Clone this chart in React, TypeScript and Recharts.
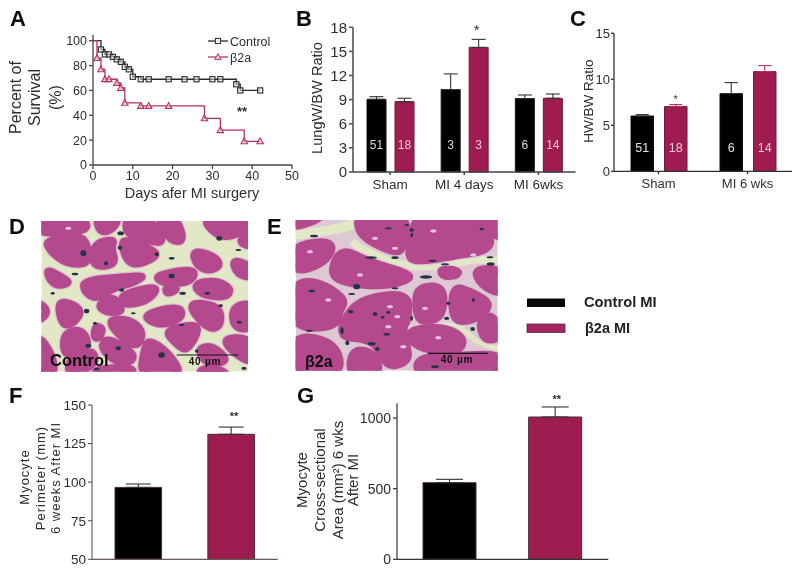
// App.tsx - seven panel figure, survival curve, bar panels and two histology panels
import { BarChart, Bar, XAxis, YAxis, ErrorBar, LabelList, Cell, LineChart, Line, Legend } from 'recharts';

const FONT = '"Liberation Sans", Arial, sans-serif';
const MAROON = '#9f1c50';
const PINK_LINE = '#b62f60';
const INK = '#2e2e2e';

// panel A
const controlDays = [0, 2, 3, 4, 5, 6, 7, 8, 9, 10, 12, 14, 19, 23, 26, 30, 32, 36, 37, 42];
const controlSurvival = [100, 93, 89, 89, 87, 85, 83, 79, 77, 71, 69, 69, 69, 69, 69, 69, 69, 65, 60, 60];
const betaDays = [0, 1, 2, 3, 4, 6, 7, 8, 12, 14, 19, 28, 32, 38, 42];
const betaSurvival = [100, 86, 77, 69, 69, 66, 62, 50, 47.5, 47.5, 47.5, 37.5, 28, 19, 19];
const survivalXTicks = [0, 10, 20, 30, 40, 50];
const survivalYTicks = [0, 20, 40, 60, 80, 100];

// panel B
const lungCategories = ['Sham', 'MI 4 days', 'MI 6wks'];
const lungControl = [9.04, 10.25, 9.13];
const lungControlErr = [0.33, 1.95, 0.45];
const lungControlN = [51, 3, 6];
const lungBeta = [8.75, 15.5, 9.17];
const lungBetaErr = [0.42, 1.0, 0.53];
const lungBetaN = [18, 3, 14];
const lungTicks = [0, 3, 6, 9, 12, 15, 18];

// panel C
const hwCategories = ['Sham', 'MI 6 wks'];
const hwControl = [6.01, 8.44];
const hwControlErr = [0.15, 1.2];
const hwControlN = [51, 6];
const hwBeta = [7.03, 10.83];
const hwBetaErr = [0.22, 0.66];
const hwBetaN = [18, 14];
const hwTicks = [0, 5, 10, 15];

// panels F and G
const groupNames = ['Control MI', 'β2a MI'];
const perimeterValues = [96.6, 131];
const perimeterErr = [2.2, 4.7];
const perimeterTicks = [50, 75, 100, 125, 150];
const areaValues = [542, 1007];
const areaErr = [24, 71];
const areaTicks = [0, 500, 1000];

const toPoints = (xs: number[], ys: number[]) => xs.map((x, i) => ({ x, y: ys[i] }));
const controlPoints = toPoints(controlDays, controlSurvival);
const betaPoints = toPoints(betaDays, betaSurvival);

const lungData = lungCategories.map((name, i) => ({
  name,
  control: lungControl[i],
  controlErr: [0, lungControlErr[i]],
  controlN: lungControlN[i],
  beta: lungBeta[i],
  betaErr: [0, lungBetaErr[i]],
  betaN: lungBetaN[i],
}));
const hwData = hwCategories.map((name, i) => ({
  name,
  control: hwControl[i],
  controlErr: [0, hwControlErr[i]],
  controlN: hwControlN[i],
  beta: hwBeta[i],
  betaErr: [0, hwBetaErr[i]],
  betaN: hwBetaN[i],
}));
const perimeterData = groupNames.map((name, i) => ({ name, value: perimeterValues[i], err: [0, perimeterErr[i]] }));
const areaData = groupNames.map((name, i) => ({ name, value: areaValues[i], err: [0, areaErr[i]] }));

const squareDot = (p: any) => {
  if (p.index === 0) return <g key={p.index} />;
  return <rect key={p.index} x={p.cx - 2.6} y={p.cy - 2.6} width={5.2} height={5.2} fill="#e8e8e8" fillOpacity={0.5} stroke="#2b2b2b" strokeWidth={1.1} />;
};
const triangleDot = (p: any) => {
  if (p.index === 0) return <g key={p.index} />;
  return <path key={p.index} d={`M${p.cx},${p.cy - 3.4}L${p.cx + 3.2},${p.cy + 2.4}L${p.cx - 3.2},${p.cy + 2.4}Z`} fill="#f3d5de" fillOpacity={0.6} stroke={PINK_LINE} strokeWidth={1.1} />;
};

const SurvivalLegend = () => (
  <svg width={90} height={34} style={{ display: 'block' }}>
    <line x1={0} x2={20} y1={8} y2={8} stroke="#2b2b2b" strokeWidth={1.3} />
    <rect x={7.4} y={5.4} width={5.2} height={5.2} fill="#eee" stroke="#2b2b2b" />
    <text x={22} y={12.5} fontSize={12.5} fill={INK} fontFamily={FONT}>Control</text>
    <line x1={0} x2={20} y1={24} y2={24} stroke={PINK_LINE} strokeWidth={1.3} />
    <path d="M10,20.6L13.2,26.4L6.8,26.4Z" fill="#f3d5de" stroke={PINK_LINE} />
    <text x={22} y={28.5} fontSize={12.5} fill={INK} fontFamily={FONT}>β2a</text>
  </svg>
);

function PanelA() {
  return (
    <div style={{ position: 'absolute', left: 43, top: 0 }}>
      <LineChart width={270} height={190} margin={{ top: 35, right: 21, bottom: 0, left: 0 }}>
        <XAxis type="number" dataKey="x" domain={[0, 50]} ticks={survivalXTicks} interval={0} tick={{ fontSize: 12.5, fill: INK, fontFamily: FONT }} tickSize={4} tickMargin={2} stroke="#444" strokeWidth={1.3} height={25} />
        <YAxis type="number" dataKey="y" domain={[0, 104.6]} ticks={survivalYTicks} interval={0} tick={{ fontSize: 12.5, fill: INK, fontFamily: FONT }} tickSize={4} tickMargin={2} stroke="#444" strokeWidth={1.3} width={50} />
        <Legend layout="vertical" align="center" verticalAlign="middle" content={() => <SurvivalLegend />} wrapperStyle={{ position: 'absolute', left: 165, top: 33, width: 90, height: 34 }} />
        <Line data={controlPoints} dataKey="y" name="Control" type="stepAfter" stroke="#2b2b2b" strokeWidth={1.3} dot={squareDot} isAnimationActive={false} />
        <Line data={betaPoints} dataKey="y" name="β2a" type="stepAfter" stroke={PINK_LINE} strokeWidth={1.3} dot={triangleDot} isAnimationActive={false} />
      </LineChart>
    </div>
  );
}

function PanelB() {
  const nStyle = { fontSize: 12, fontFamily: FONT };
  return (
    <div style={{ position: 'absolute', left: 302.5, top: 0 }}>
      <BarChart width={275} height={202} data={lungData} barSize={19} barGap={9} margin={{ top: 27.3, right: 2.5, bottom: 0, left: 0 }}>
        <XAxis dataKey="name" interval={0} tick={{ fontSize: 13.5, fill: INK, fontFamily: FONT }} tickSize={3} tickMargin={4} stroke="#444" strokeWidth={1.5} height={30} />
        <YAxis domain={[0, 18]} ticks={lungTicks} interval={0} tick={{ fontSize: 15, fill: INK, fontFamily: FONT }} tickSize={4} tickMargin={2} stroke="#555" strokeWidth={1.6} width={50} />
        <Bar dataKey="control" fill="#000" stroke="#111" isAnimationActive={false}>
          <ErrorBar dataKey="controlErr" direction="y" width={7} stroke="#333" strokeWidth={1.1} isAnimationActive={false} />
          <LabelList dataKey="controlN" position="insideBottom" offset={23} fill="#d8d8d8" style={nStyle} />
        </Bar>
        <Bar dataKey="beta" fill={MAROON} stroke="#6e1a3c" isAnimationActive={false}>
          <ErrorBar dataKey="betaErr" direction="y" width={7} stroke="#333" strokeWidth={1.1} isAnimationActive={false} />
          <LabelList dataKey="betaN" position="insideBottom" offset={23} fill="#f2c6d6" style={nStyle} />
        </Bar>
      </BarChart>
    </div>
  );
}

function PanelC() {
  const nStyle = { fontSize: 12.5, fontFamily: FONT };
  return (
    <div style={{ position: 'absolute', left: 574, top: 0 }}>
      <BarChart width={222} height={202} data={hwData} barSize={22.5} barGap={11} margin={{ top: 33.3, right: 4, bottom: 0, left: 0 }}>
        <XAxis dataKey="name" interval={0} tick={{ fontSize: 13, fill: INK, fontFamily: FONT }} tickSize={3} tickMargin={4} stroke="#333" strokeWidth={1.3} height={30.7} />
        <YAxis domain={[0, 15]} ticks={hwTicks} interval={0} tick={{ fontSize: 13, fill: INK, fontFamily: FONT }} tickSize={3} tickMargin={1} stroke="#333" strokeWidth={1.3} width={40} />
        <Bar dataKey="control" fill="#000" stroke="#111" isAnimationActive={false}>
          <ErrorBar dataKey="controlErr" direction="y" width={6.5} stroke="#333" strokeWidth={1.1} isAnimationActive={false} />
          <LabelList dataKey="controlN" position="insideBottom" offset={19} fill="#e2e2e2" style={nStyle} />
        </Bar>
        <Bar dataKey="beta" fill={MAROON} stroke="#6e1a3c" isAnimationActive={false}>
          <ErrorBar dataKey="betaErr" direction="y" width={6.5} stroke={PINK_LINE} strokeWidth={1.1} isAnimationActive={false} />
          <LabelList dataKey="betaN" position="insideBottom" offset={19} fill="#f2c6d6" style={nStyle} />
        </Bar>
      </BarChart>
    </div>
  );
}

function PanelF() {
  return (
    <div style={{ position: 'absolute', left: 42, top: 390 }}>
      <BarChart width={237} height={182} data={perimeterData} barSize={46.6} margin={{ top: 15, right: 1.3, bottom: 0, left: 0 }}>
        <XAxis dataKey="name" tick={false} tickLine={false} stroke="#6a5a55" strokeWidth={1.2} height={12.7} />
        <YAxis domain={[50, 150]} ticks={perimeterTicks} interval={0} tick={{ fontSize: 13.5, fill: INK, fontFamily: FONT }} tickSize={4} tickMargin={2} stroke="#555" strokeWidth={1.1} width={50} />
        <Bar dataKey="value" stroke="#4a2a35" isAnimationActive={false}>
          {perimeterData.map((d, i) => <Cell key={d.name} fill={i === 0 ? '#000' : MAROON} />)}
          <ErrorBar dataKey="err" direction="y" width={12.5} stroke="#333" strokeWidth={1.1} isAnimationActive={false} />
        </Bar>
      </BarChart>
    </div>
  );
}

function PanelG() {
  return (
    <div style={{ position: 'absolute', left: 347.3, top: 390 }}>
      <BarChart width={262} height={182} data={areaData} barSize={53} margin={{ top: 13.3, right: 0.7, bottom: 0, left: 0 }}>
        <XAxis dataKey="name" tick={false} tickLine={false} stroke="#333" strokeWidth={1.2} height={12.7} />
        <YAxis domain={[0, 1104]} ticks={areaTicks} interval={0} tick={{ fontSize: 14, fill: INK, fontFamily: FONT }} tickSize={4} tickMargin={2} stroke="#333" strokeWidth={1.2} width={50} />
        <Bar dataKey="value" stroke="#4a2a35" isAnimationActive={false}>
          {areaData.map((d, i) => <Cell key={d.name} fill={i === 0 ? '#000' : MAROON} />)}
          <ErrorBar dataKey="err" direction="y" width={13.5} stroke="#333" strokeWidth={1.1} isAnimationActive={false} />
        </Bar>
      </BarChart>
    </div>
  );
}

// the two micrographs are only sketched as cell outlines, coordinates are in 3x crop pixels
const histDCells = [
  '110,35 250,35 270,80 110,90', '135,105 240,90 265,120 268,178 200,178 150,140', '285,35 360,35 340,75 300,85',
  '280,115 345,100 335,130 350,180 275,188', '370,100 440,125 480,150 420,180 385,175 365,130', '380,35 445,35 500,115 440,110 375,85',
  '465,35 530,35 555,110 510,110', '600,35 760,35 760,60 700,95 650,95', '575,135 640,150 665,180 630,200 590,185',
  '710,110 760,75 760,130', '695,160 760,185 760,220 710,210', '140,190 195,220 210,235 170,245 145,220',
  '250,225 370,215 440,210 400,235 340,250 290,285 250,260', '460,210 580,190 585,215 560,235 490,238', '365,265 480,240 450,285 395,300 365,295',
  '495,245 540,250 500,270', '580,235 650,225 695,250 680,280 600,270', '110,285 150,320 110,355',
  '170,280 250,310 225,355 185,365', '290,300 340,270 375,320 320,325', '555,290 660,300 665,365 620,375',
  '420,330 540,300 550,340 480,365', '695,305 760,290 760,375 700,370', '315,345 385,340 430,375 420,420 385,420',
  '490,375 590,355 595,385 560,440 530,420', '650,400 760,395 760,490', '190,385 240,370 270,410 240,450 190,450',
  '285,360 310,370 300,400 280,400', '320,395 400,440 400,470 350,475 300,430', '445,400 510,445 550,515 420,515 430,440',
  '110,380 160,450 165,515 110,515', '590,430 640,420 690,470 620,480', '205,460 280,430 290,480 205,515',
  '600,490 660,490 690,515 600,515', '285,490 400,485 400,515 285,515',
];
const histDChannels: [string, number][] = [];
const histDNuclei: [number, number, number, number][] = [
  [362, 85, 10, 6], [360, 128, 7, 6], [250, 145, 9, 9], [318, 175, 6, 6], [470, 148, 6, 6], [515, 160, 9, 4], [658, 100, 9, 7],
  [225, 207, 10, 4], [515, 213, 9, 7], [365, 255, 8, 5], [548, 265, 10, 5], [622, 265, 9, 4], [158, 265, 6, 4], [260, 318, 8, 7],
  [285, 355, 6, 5], [400, 325, 7, 3], [662, 302, 7, 4], [718, 352, 8, 4], [265, 422, 9, 6], [355, 430, 8, 6], [485, 450, 10, 8],
  [590, 438, 5, 5], [732, 490, 8, 5], [290, 492, 9, 4], [715, 135, 9, 3], [545, 360, 9, 3],
];
const histDSpecks: [number, number][] = [[205, 70]];
const histECells = [
  '95,30 210,30 95,75', '290,30 440,30 440,100 420,150 345,120 295,85', '465,30 640,30 700,100 680,140 600,150 500,170 440,165 455,100',
  '650,30 730,30 730,120', '95,125 190,105 225,125 190,180 95,205', '240,125 330,170 450,205 450,225 380,245 280,240 205,215',
  '640,190 730,190 730,275 660,240', '540,190 600,195 590,215 545,215', '95,235 170,225 260,280 240,320 225,370 95,370',
  '295,280 450,260 445,350 430,365 440,410 450,470 380,490 350,420 300,400 250,400 240,360', '470,245 555,240 550,340 480,355 465,310',
  '575,240 640,260 700,300 640,350 575,350', '450,370 560,365 615,400 600,440 510,440 445,410', '655,345 700,325 730,400 670,410',
  '95,385 230,410 250,515 95,515', '275,430 345,440 365,515 265,515', '470,455 600,450 730,445 730,515 470,515',
];
const histEChannels: [string, number][] = [
  ['M95,90C160,85 230,75 290,55', 30],
  ['M275,110C320,145 390,175 450,182C510,190 580,180 630,165C660,160 690,165 720,170', 24],
  ['M440,370C500,360 570,355 600,368C630,390 650,420 720,432', 16],
];
const histENuclei: [number, number, number, number][] = [
  [162, 93, 12, 4], [385, 70, 10, 3], [440, 60, 7, 3], [455, 75, 7, 5], [333, 158, 18, 4], [405, 158, 11, 4], [518, 167, 12, 3], [555, 178, 12, 3],
  [690, 157, 10, 3], [692, 177, 12, 5], [498, 216, 18, 5], [290, 245, 10, 8], [405, 250, 10, 3], [275, 267, 10, 3], [155, 258, 10, 4], [345, 327, 7, 6],
  [368, 337, 5, 4], [385, 322, 6, 4], [272, 320, 8, 5], [246, 377, 5, 10], [148, 377, 10, 3], [335, 416, 12, 5], [352, 432, 7, 6], [262, 414, 6, 7],
  [565, 295, 6, 5], [560, 340, 8, 5], [638, 372, 7, 6], [640, 285, 4, 6], [455, 90, 4, 7], [525, 485, 12, 4], [665, 72, 6, 4], [380, 388, 10, 4], [455, 340, 4, 8],
];
const histESpecks: [number, number][] = [
  [520, 78], [405, 130], [300, 210], [205, 285], [390, 305], [412, 335], [385, 365], [495, 310], [535, 398], [150, 140], [345, 100], [430, 425], [640, 150],
];

// closed curve through the edge midpoints, so the sketched cells get round corners
const smooth = (pts: string) => {
  const p = pts.split(' ').map((s) => s.split(',').map(Number));
  const mid = (a: number[], b: number[]) => `${(a[0] + b[0]) / 2},${(a[1] + b[1]) / 2}`;
  let d = `M${mid(p[p.length - 1], p[0])}`;
  p.forEach((v, i) => {
    d += `Q${v[0]},${v[1]} ${mid(v, p[(i + 1) % p.length])}`;
  });
  return d + 'Z';
};

function Histology(props: { id: string; ox: number; oy: number; x: number; y: number; w: number; h: number; gap: string; cells: string[]; channels: [string, number][]; nuclei: [number, number, number, number][]; specks: [number, number][] }) {
  const { id, ox, oy, x, y, w, h, gap, cells, channels, nuclei, specks } = props;
  return (
    <g transform={`translate(${ox},${oy}) scale(${1 / 3})`} style={{ filter: 'blur(0.6px)' }}>
      <defs>
        <clipPath id={id}><rect x={x} y={y} width={w} height={h} /></clipPath>
      </defs>
      <g clipPath={`url(#${id})`} strokeLinejoin="round">
        <rect x={x} y={y} width={w} height={h} fill={gap} />
        {channels.map(([d, sw], i) => <path key={`g${i}`} d={d} fill="none" stroke="#e2e8c6" strokeWidth={sw} />)}
        {cells.map((pts, i) => <path key={`h${i}`} d={smooth(pts)} fill="#d9b4cd" stroke="#dcc0cf" strokeWidth={27} />)}
        {cells.map((pts, i) => <path key={`c${i}`} d={smooth(pts)} fill="#b5498d" stroke="#b5498d" strokeWidth={20} />)}
        {specks.map(([cx, cy], i) => <ellipse key={`s${i}`} cx={cx} cy={cy} rx={9} ry={5} fill="#e5c3da" />)}
        {nuclei.map(([cx, cy, rx, ry], i) => <ellipse key={`n${i}`} cx={cx} cy={cy} rx={rx} ry={ry} fill="#253445" />)}
      </g>
    </g>
  );
}

function Overlay() {
  const t = { fontFamily: FONT, fill: INK };
  const letter = { fontFamily: FONT, fontWeight: 700, fontSize: 22, fill: '#0c0c0c' };
  const rot = (x: number, y: number) => `rotate(-90 ${x} ${y})`;
  return (
    <svg width={800} height={572} style={{ position: 'absolute', left: 0, top: 0, pointerEvents: 'none' }}>
      <Histology id="histD" ox={0} oy={205} x={124} y={48} w={620} h={452} gap="#e2e8c6" cells={histDCells} channels={histDChannels} nuclei={histDNuclei} specks={histDSpecks} />
      <Histology id="histE" ox={260} oy={205} x={107} y={45} w={606} h={452} gap="#ddc8d4" cells={histECells} channels={histEChannels} nuclei={histENuclei} specks={histESpecks} />

      <text x={10} y={26} {...letter}>A</text>
      <text x={296} y={26} {...letter}>B</text>
      <text x={570} y={26} {...letter}>C</text>
      <text x={9} y={234} {...letter}>D</text>
      <text x={267} y={234} {...letter}>E</text>
      <text x={9} y={403} {...letter}>F</text>
      <text x={297} y={403} {...letter}>G</text>

      <text x={20.7} y={97.5} transform={rot(20.7, 97.5)} textAnchor="middle" fontSize={16} {...t}>Percent of</text>
      <text x={40} y={97.5} transform={rot(40, 97.5)} textAnchor="middle" fontSize={16} {...t}>Survival</text>
      <text x={61} y={97.5} transform={rot(61, 97.5)} textAnchor="middle" fontSize={16} {...t}>(%)</text>
      <text x={192} y={198} textAnchor="middle" fontSize={14.5} {...t}>Days afer MI surgery</text>
      <text x={242} y={116} textAnchor="middle" fontSize={13} fontWeight={700} {...t}>**</text>

      <text x={322.3} y={98} transform={rot(322.3, 98)} textAnchor="middle" fontSize={14.6} {...t}>LungW/BW Ratio</text>
      <text x={476.7} y={35} textAnchor="middle" fontSize={15} {...t}>*</text>

      <text x={592.7} y={101} transform={rot(592.7, 101)} textAnchor="middle" fontSize={13.5} {...t}>HW/BW Ratio</text>
      <text x={675.7} y={103} textAnchor="middle" fontSize={11} {...t}>*</text>

      <text x={50} y={366} fontSize={16.5} fontWeight={700} fill="#0c0c0c" fontFamily={FONT}>Control</text>
      <line x1={176.7} x2={238} y1={355} y2={355} stroke="#111" strokeWidth={1.2} />
      <text x={205} y={365} textAnchor="middle" fontSize={10} letterSpacing={0.8} fontWeight={700} fill="#111" fontFamily={FONT}>40 µm</text>
      <text x={305} y={367} fontSize={16} fontWeight={700} fill="#0c0c0c" fontFamily={FONT}>β2a</text>
      <line x1={428} x2={488} y1={353.3} y2={353.3} stroke="#111" strokeWidth={1.2} />
      <text x={457} y={362.5} textAnchor="middle" fontSize={10} letterSpacing={0.8} fontWeight={700} fill="#111" fontFamily={FONT}>40 µm</text>

      <rect x={527} y={298.5} width={38} height={8.5} fill="#060a0a" />
      <rect x={527} y={324} width={38} height={8.5} fill="#a42560" stroke="#5c2a40" strokeWidth={0.8} />
      <text x={584} y={307} fontSize={14.7} fontWeight={700} fill="#222" fontFamily={FONT}>Control MI</text>
      <text x={585} y={332.5} fontSize={14.5} fontWeight={700} fill="#222" fontFamily={FONT}>β2a MI</text>

      <g fontFamily={FONT} fill={INK} fontSize={13} letterSpacing={1} textAnchor="middle">
        <text x={29} y={477} transform={rot(29, 477)}>Myocyte</text>
        <text x={45} y={478} transform={rot(45, 478)}>Perimeter (mm)</text>
        <text x={60} y={478} transform={rot(60, 478)}>6 weeks After MI</text>
      </g>
      <text x={234} y={420} textAnchor="middle" fontSize={11} fontWeight={700} {...t}>**</text>

      <g fontFamily={FONT} fill={INK} fontSize={15} textAnchor="middle">
        <text x={307.3} y={480} transform={rot(307.3, 480)}>Myocyte</text>
        <text x={325} y={480} transform={rot(325, 480)}>Cross-sectional</text>
        <text x={343.3} y={480} transform={rot(343.3, 480)}>Area (mm²) 6 wks</text>
        <text x={358} y={480} transform={rot(358, 480)}>After MI</text>
      </g>
      <text x={556.7} y={403} textAnchor="middle" fontSize={11} fontWeight={700} {...t}>**</text>
    </svg>
  );
}

export default function App() {
  return (
    <div style={{ position: 'absolute', left: 0, top: 0, width: 800, height: 572, background: '#fff', overflow: 'hidden', filter: 'blur(0.35px)' }}>
      <Overlay />
      <PanelA />
      <PanelB />
      <PanelC />
      <PanelF />
      <PanelG />
    </div>
  );
}
